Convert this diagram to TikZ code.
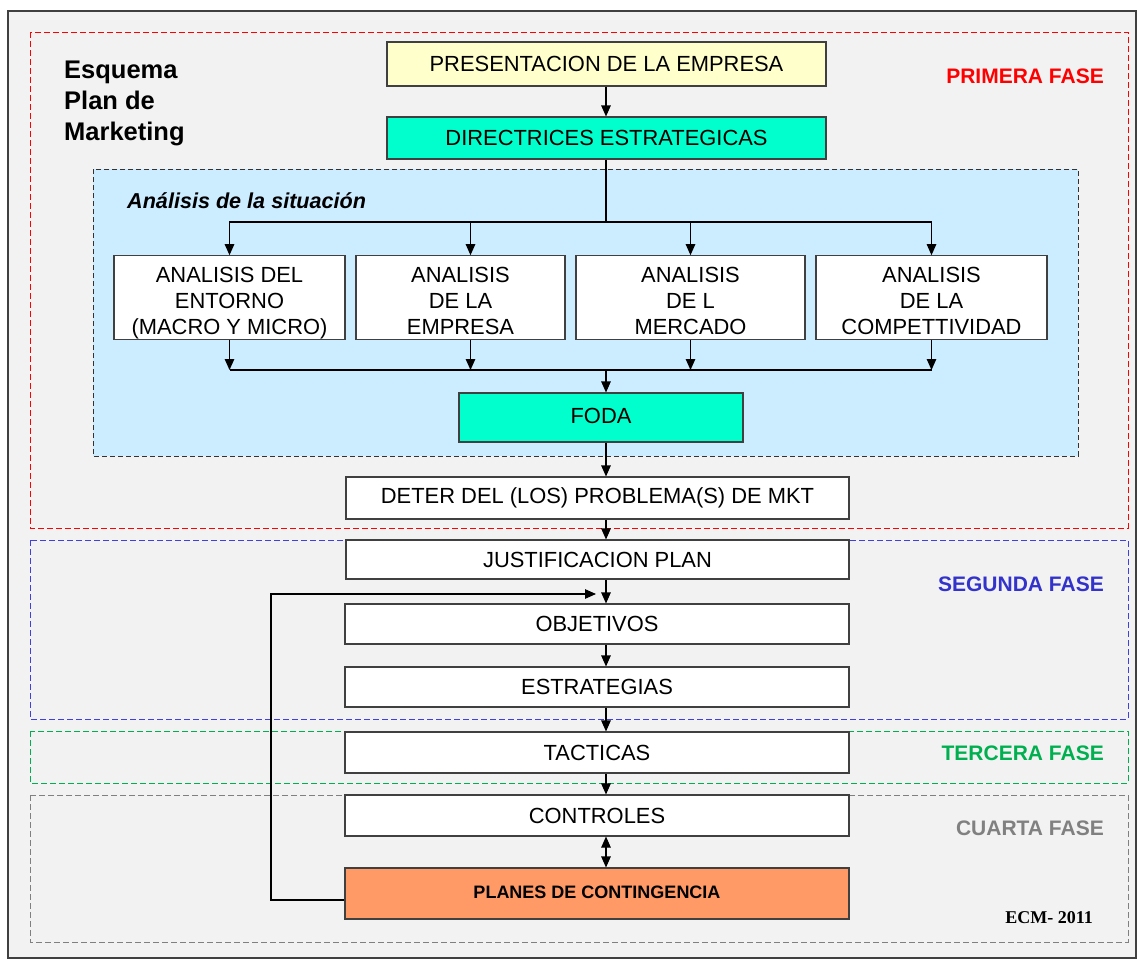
\documentclass[tikz,border=0pt]{standalone}
\usepackage{fontspec}
\setmainfont{Liberation Sans}
\newfontfamily\timesf{Liberation Serif}
\usetikzlibrary{arrows.meta,calc}
\definecolor{framebg}{HTML}{F2F2F2}
\definecolor{frameline}{HTML}{404040}
\definecolor{boxline}{HTML}{404040}
\definecolor{anafill}{HTML}{CCECFF}
\definecolor{aqua}{HTML}{00FFCC}
\definecolor{paleyellow}{HTML}{FFFFCC}
\definecolor{orangefill}{HTML}{FF9966}
\definecolor{faseblue}{HTML}{3333CC}
\definecolor{dashblue}{HTML}{4040E0}
\definecolor{fasegreen}{HTML}{00B050}
\definecolor{fasegray}{HTML}{808080}
\tikzset{
  box/.style={draw=boxline, line width=1.1pt, fill=white, align=center, inner sep=0pt,
    font=\fontsize{21.9}{26}\selectfont, text=black},
  tip/.style={Triangle[length=11pt,width=9.5pt]},
  arr/.style={-{Triangle[length=11pt,width=9.5pt]}, line width=1.1pt, draw=black},
  link/.style={line width=1.1pt, draw=black},
  phase/.style={dash pattern=on 6pt off 3pt, line width=1pt},
  phaselabel/.style={anchor=east, inner sep=0pt, font=\bfseries\fontsize{21}{24}\selectfont},
}
\newcommand{\firststrut}{\rule{0pt}{27pt}}
\begin{document}
\begin{tikzpicture}[x=1pt,y=-1pt]
\useasboundingbox (0,0) rectangle (1138,961);
\fill[white] (0,0) rectangle (1138,961);
% outer frame
\draw[frameline, fill=framebg, line width=1.4pt] (8,11) rectangle (1136,958);
% phase frames
\draw[phase, red] (30,32) rectangle (1128,528);
\draw[phase, dashblue] (30,540) rectangle (1128,719);
\draw[phase, fasegreen] (30,731) rectangle (1128,783);
\draw[phase, fasegray] (30,795) rectangle (1128,942);
% analysis area
\draw[fill=anafill, draw=black!80, dash pattern=on 5pt off 3pt, line width=1pt] (93,169) rectangle (1078,456);

% title
\node[anchor=north west, align=left, font=\bfseries\fontsize{25.5}{31}\selectfont, inner sep=0pt] (title) at (64,61) {Esquema\\Plan de\\Marketing};
\node[anchor=west, font=\bfseries\itshape\fontsize{21.6}{24}\selectfont, inner sep=0pt] (anal) at (127,201) {Análisis de la situación};

% phase labels
\node[phaselabel, text=red] (f1) at (1104,76) {PRIMERA FASE};
\node[phaselabel, text=faseblue] (f2) at (1104,584) {SEGUNDA FASE};
\node[phaselabel, text=fasegreen] (f3) at (1104,753) {TERCERA FASE};
\node[phaselabel, text=fasegray] (f4) at (1104,828) {CUARTA FASE};
\node[anchor=east, font=\timesf\bfseries\fontsize{18}{20}\selectfont, inner sep=0pt] (ecm) at (1093,918) {ECM- 2011};

% boxes
\node[box, fill=paleyellow, minimum width=439pt, minimum height=44pt] (pres) at (606.5,64) {PRESENTACION DE LA EMPRESA};
\node[box, fill=aqua, minimum width=439pt, minimum height=42pt] (dir) at (606.5,138) {DIRECTRICES ESTRATEGICAS};
\node[box, minimum width=231pt, minimum height=83pt] (a1) at (229.5,297.5) {\firststrut ANALISIS DEL\\ENTORNO\\(MACRO Y MICRO)};
\node[box, minimum width=209pt, minimum height=83pt] (a2) at (460.5,297.5) {\firststrut ANALISIS\\DE LA\\EMPRESA\vphantom{()}};
\node[box, minimum width=229pt, minimum height=83pt] (a3) at (690.5,297.5) {\firststrut ANALISIS\\DE L\\MERCADO\vphantom{()}};
\node[box, minimum width=231pt, minimum height=83pt] (a4) at (931.5,297.5) {\firststrut ANALISIS\\DE LA\\COMPETTIVIDAD\vphantom{()}};
\node[box, fill=aqua, minimum width=284pt, minimum height=49pt] (foda) at (601,417.5) {\raisebox{4pt}{FODA}};
\node[box, minimum width=503pt, minimum height=42pt] (deter) at (597.5,498) {DETER DEL (LOS) PROBLEMA(S) DE MKT};
\node[box, minimum width=503pt, minimum height=39pt] (just) at (597.5,559.5) {JUSTIFICACION PLAN};
\node[box, minimum width=504pt, minimum height=40pt] (obj) at (597,624) {OBJETIVOS};
\node[box, minimum width=504pt, minimum height=40pt] (estr) at (597,687) {ESTRATEGIAS};
\node[box, minimum width=504pt, minimum height=41pt] (tact) at (597,752.5) {TACTICAS};
\node[box, minimum width=504pt, minimum height=41pt] (ctrl) at (597,815.5) {CONTROLES};
\node[box, fill=orangefill, minimum width=504pt, minimum height=51pt, font=\bfseries\fontsize{18}{22}\selectfont] (plan) at (597,893.5) {\raisebox{3pt}{PLANES DE CONTINGENCIA}};

% helper coordinates
\coordinate (colx) at (606,0);
\coordinate (split) at (606,222);
\coordinate (merge) at (606,370);
\coordinate (fbturn) at (271,594);
\coordinate (fbend) at (596,594);

% connectors
\draw[arr] (pres.south -| colx) -- (dir.north -| colx);
\draw[link] (dir.south -| colx) -- (split);
\draw[arr] (split) -| (a1.north);
\draw[arr] (split) -| ([xshift=10pt]a2.north);
\draw[arr] (split) -| (a3.north);
\draw[arr] (split) -| (a4.north);
\draw[arr] (a1.south) -- (a1.south |- merge);
\draw[arr] ([xshift=10pt]a2.south) -- ([xshift=10pt]a2.south |- merge);
\draw[arr] (a3.south) -- (a3.south |- merge);
\draw[arr] (a4.south) -- (a4.south |- merge);
\draw[link] (a1.south |- merge) -- (a4.south |- merge);
\draw[arr] (merge) -- (merge |- foda.north);
\draw[arr] (foda.south -| colx) -- (deter.north -| colx);
\draw[arr] (deter.south -| colx) -- (just.north -| colx);
\draw[arr] (just.south -| colx) -- (obj.north -| colx);
\draw[arr] (obj.south -| colx) -- (estr.north -| colx);
\draw[arr] (estr.south -| colx) -- (tact.north -| colx);
\draw[arr] (tact.south -| colx) -- (ctrl.north -| colx);
\draw[{Triangle[length=11pt,width=9.5pt]}-{Triangle[length=11pt,width=9.5pt]}, line width=1.1pt] (ctrl.south -| colx) -- (plan.north -| colx);
\draw[arr] ([yshift=-6.5pt]plan.west) -| (fbturn) -- (fbend);
\end{tikzpicture}
\end{document}
